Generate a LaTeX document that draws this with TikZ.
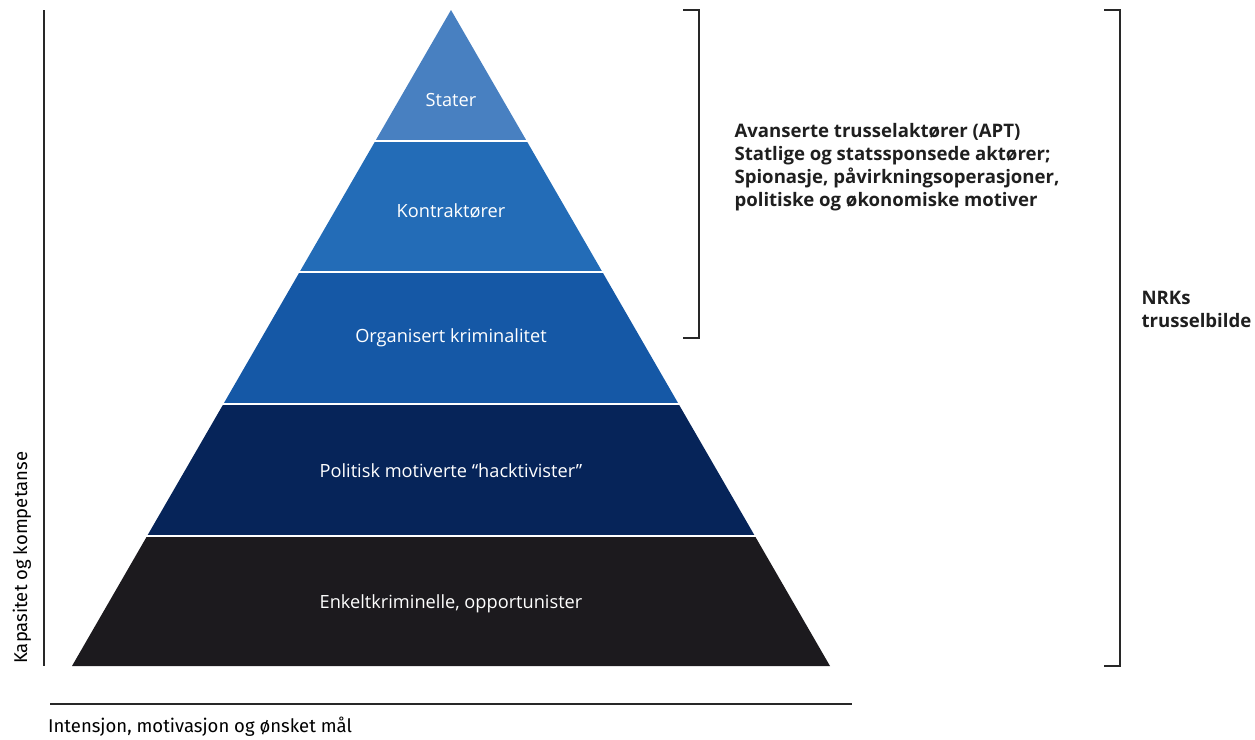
\documentclass[tikz,border=0pt]{standalone}
\usepackage{fontspec}
\setmainfont{Open Sans}
\newfontfamily\axisfont{Fira Sans}
\definecolor{nrkstater}{RGB}{72,128,193}
\definecolor{nrkkontr}{RGB}{35,108,183}
\definecolor{nrkorg}{RGB}{21,88,166}
\definecolor{nrkhack}{RGB}{6,36,89}
\definecolor{nrkenkelt}{RGB}{28,26,30}
\definecolor{nrkline}{RGB}{40,40,40}
\usetikzlibrary{positioning, calc}

\begin{document}
\begin{tikzpicture}[x=1pt, y=-1pt,
  layer/.style={font=\fontsize{18.2}{21}\selectfont, text=white, align=center},
  axis/.style={draw=nrkline, line width=1.2pt},
  axislabel/.style={font=\axisfont\fontsize{18.5}{22}\selectfont, inner sep=2pt},
  bracket/.style={draw=nrkline, line width=1.2pt},
  note/.style={font=\fontsize{18.6}{23}\selectfont\bfseries, text=black!88, align=left, anchor=west},
  gap/.style={draw=white, line width=2pt},
]
  \useasboundingbox (0,0) rectangle (1255,739);

  % pyramid layers
  \fill[nrkstater]  (451,10) -- (526.7,141) -- (375.3,141) -- cycle;
  \fill[nrkkontr]   (375.3,141) -- (526.7,141) -- (602.4,272) -- (299.6,272) -- cycle;
  \fill[nrkorg]     (299.6,272) -- (602.4,272) -- (678.6,404) -- (223.4,404) -- cycle;
  \fill[nrkhack]    (223.4,404) -- (678.6,404) -- (754.9,536) -- (147.1,536) -- cycle;
  \fill[nrkenkelt]  (147.1,536) -- (754.9,536) -- (830,666) -- (72,666) -- cycle;
  \draw[gap] (374,141) -- (528,141);
  \draw[gap] (298,272) -- (604,272);
  \draw[gap] (222,404) -- (680,404);
  \draw[gap] (146,536) -- (756,536);

  \node[layer] (stater)  at (451,100) {Stater};
  \node[layer] (kontr)   at (451,211) {Kontraktører};
  \node[layer] (org)     at (451,338) {Organisert kriminalitet};
  \node[layer] (hack)    at (451,471) {Politisk motiverte “hacktivister”};
  \node[layer] (enkelt)  at (451,604) {Enkeltkriminelle, opportunister};

  % axes
  \coordinate (ytop) at (44,10);
  \coordinate (ybot) at (44,666);
  \coordinate (xleft) at (50,704);
  \coordinate (xright) at (852,704);
  \draw[axis] (ytop) -- (ybot);
  \draw[axis] (xleft) -- (xright);
  \node[axislabel, rotate=90, anchor=west] (ylab) at (22,666) {Kapasitet og kompetanse};
  \node[axislabel, anchor=west] (xlab) at (46,727) {Intensjon, motivasjon og ønsket mål};

  % brackets
  \coordinate (b1top) at (683,10);
  \coordinate (b1bot) at (683,338);
  \draw[bracket] (b1top) -- ++(16,0) -- ++(0,328) -- (b1bot);
  \coordinate (b2top) at (1104,10);
  \coordinate (b2bot) at (1104,666);
  \draw[bracket] (b2top) -- ++(16,0) -- ++(0,656) -- (b2bot);

  \node[note] (apt) at (731,167) {Avanserte trusselaktører (APT)\\Statlige og statssponsede aktører;\\Spionasje, påvirkningsoperasjoner,\\politiske og økonomiske motiver};
  \node[note] (nrk) at (1138,309) {NRKs\\trusselbilde};
\end{tikzpicture}
\end{document}
